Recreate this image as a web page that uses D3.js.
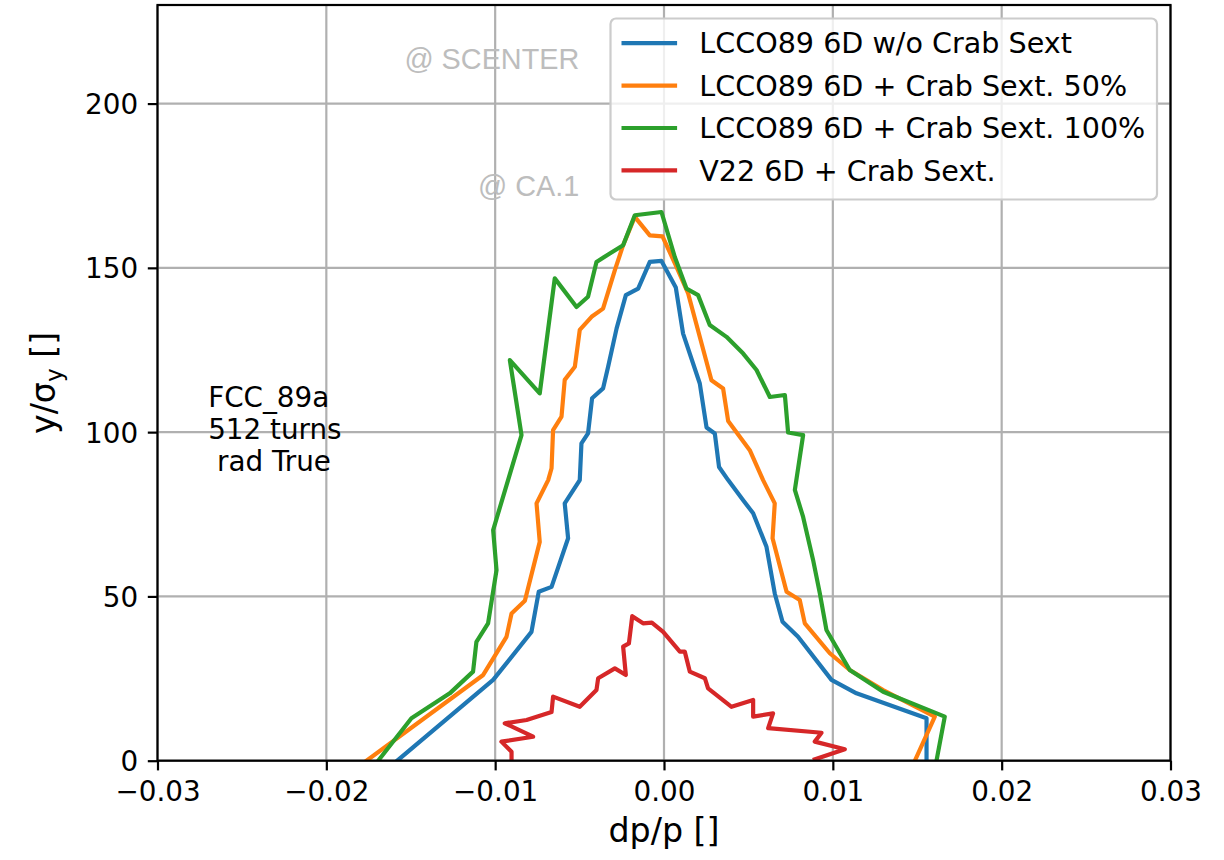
<!DOCTYPE html>
<html>
<head>
<meta charset="utf-8">
<script src="https://cdn.jsdelivr.net/npm/d3@7"></script>
<style>
  html, body { margin: 0; padding: 0; background: #fff; }
  svg { display: block; font-family: "DejaVu Sans", sans-serif; }
</style>
</head>
<body>
<svg id="chart" width="1224" height="860"></svg>
<script>
// ---------- data ----------
const seriesNames = [
  "LCCO89 6D w/o Crab Sext",
  "LCCO89 6D + Crab Sext. 50%",
  "LCCO89 6D + Crab Sext. 100%",
  "V22 6D + Crab Sext."
];
const seriesColors = ["#1f77b4", "#ff7f0e", "#2ca02c", "#d62728"];

const blueDp = [-0.0158,-0.01012,-0.00785,-0.00742,-0.00666,-0.00568,-0.00588,-0.00499,-0.00489,-0.00450,-0.00426,-0.00361,-0.00331,-0.00281,-0.00226,-0.00153,-0.00084,-0.00015,0.00070,0.00113,0.00212,0.00252,0.00301,0.00326,0.00380,0.00469,0.00528,0.00607,0.00656,0.00702,0.00794,0.00992,0.01140,0.01555,0.01555];
const blueY  = [0,24.6,39.2,51.4,52.9,67.7,78.3,85.4,96.6,99.6,110.3,113.3,119.9,131.5,141.7,143.7,151.8,152.1,144.0,130.0,114.8,101.4,99.6,89.4,85.4,79.3,75.3,65.1,50.9,42.3,37.7,24.6,20.5,12.9,0];

const orangeDp = [-0.01762,-0.01071,-0.00933,-0.00903,-0.00824,-0.00736,-0.00755,-0.00686,-0.00666,-0.00657,-0.00607,-0.00588,-0.00528,-0.00499,-0.00429,-0.00361,-0.00291,-0.00242,-0.00173,-0.00084,-0.00009,0.00074,0.00143,0.00281,0.00350,0.00380,0.00508,0.00587,0.00656,0.00643,0.00726,0.00804,0.00834,0.00982,0.01100,0.01298,0.01604,0.01486];
const orangeY  = [0,26.1,37.7,44.8,48.7,66.6,78.3,85.4,89.0,100.6,104.7,115.9,119.9,131.1,135.1,137.6,149.3,156.9,165.5,159.9,159.6,150.3,142.2,115.8,113.3,103.4,94.5,85.4,78.3,67.7,51.4,48.9,41.8,32.7,27.6,21.5,13.4,0];

const greenDp = [-0.01693,-0.01496,-0.01269,-0.01131,-0.01111,-0.01042,-0.00992,-0.01012,-0.00844,-0.00913,-0.00736,-0.00647,-0.00518,-0.00450,-0.00400,-0.00321,-0.00242,-0.00173,-0.00015,0.00064,0.00133,0.00202,0.00271,0.00370,0.00469,0.00548,0.00627,0.00716,0.00735,0.00824,0.00775,0.00824,0.00883,0.00923,0.00962,0.01100,0.01298,0.01663,0.01614];
const greenY  = [0,12.9,20.5,27.1,36.2,41.8,58.0,70.2,99.1,121.9,111.8,146.8,138.1,141.2,151.8,154.4,156.9,166.0,167.0,153.3,143.7,141.7,132.6,129.0,123.9,118.9,110.7,111.3,99.9,99.1,82.4,74.2,61.1,50.9,39.8,27.6,21.0,13.4,0];

const redDp = [-0.00903,-0.00903,-0.00963,-0.00775,-0.00943,-0.00814,-0.00666,-0.00657,-0.00499,-0.00400,-0.00390,-0.00291,-0.00226,-0.00242,-0.00208,-0.00188,-0.00124,-0.00072,-0.00005,0.00094,0.00123,0.00153,0.00242,0.00261,0.00400,0.00528,0.00528,0.00646,0.00617,0.00933,0.00893,0.01071,0.00893];
const redY  = [0,2.7,5.8,7.3,11.4,12.4,14.8,19.5,16.4,21.5,25.1,28.1,26.1,34.7,35.7,44.0,41.8,42.0,39.2,33.2,33.2,27.1,25.1,22.0,16.4,18.5,13.4,14.4,9.9,8.5,5.8,3.5,0.4];

const xTicks = [-0.03, -0.02, -0.01, 0.00, 0.01, 0.02, 0.03];
const xTickLabels = ["\u22120.03", "\u22120.02", "\u22120.01", "0.00", "0.01", "0.02", "0.03"];
const yTicks = [0, 50, 100, 150, 200];
const yTickLabels = ["0", "50", "100", "150", "200"];

const xDomain = [-0.03, 0.03];
const yDomain = [0, 230];

const infoLines = ["FCC_89a", "512 turns", " rad True"];
const markerLabels = ["@ SCENTER", "@ CA.1"];
const markerDp = [-0.00502, -0.00502];
const markerY = [210.4, 171.8];

// ---------- layout ----------
const L = 157.5, R = 1170.5, T = 5, B = 760.7;
const FS = 27.8;      // 10pt
const LGFS = 28.6;    // legend text
const LFS = 33.3;     // 12pt
const svg = d3.select("#chart");

const x = d3.scaleLinear().domain(xDomain).range([L, R]);
const y = d3.scaleLinear().domain(yDomain).range([B, T]);

// grid
const grid = svg.append("g");
grid.selectAll("line.gx").data(xTicks).enter().append("line")
  .attr("x1", d => x(d)).attr("x2", d => x(d)).attr("y1", T).attr("y2", B)
  .attr("stroke", "#b0b0b0").attr("stroke-width", 2.2);
grid.selectAll("line.gy").data(yTicks).enter().append("line")
  .attr("x1", L).attr("x2", R).attr("y1", d => y(d)).attr("y2", d => y(d))
  .attr("stroke", "#b0b0b0").attr("stroke-width", 2.2);

// clip
svg.append("defs").append("clipPath").attr("id", "plotclip")
  .append("rect").attr("x", L).attr("y", T).attr("width", R - L).attr("height", B - T);

// series
const seriesData = [
  d3.zip(blueDp, blueY),
  d3.zip(orangeDp, orangeY),
  d3.zip(greenDp, greenY),
  d3.zip(redDp, redY)
];
const line = d3.line().x(d => x(d[0])).y(d => y(d[1]));
svg.append("g").attr("clip-path", "url(#plotclip)")
  .selectAll("path").data(seriesData).enter().append("path")
  .attr("d", line)
  .attr("fill", "none")
  .attr("stroke", (d, i) => seriesColors[i])
  .attr("stroke-width", 4.2)
  .attr("stroke-linejoin", "round")
  .attr("stroke-linecap", "square");

// marker annotations (grey labels)
svg.append("g").selectAll("text").data(markerLabels).enter().append("text")
  .attr("x", (d, i) => x(markerDp[i]))
  .attr("y", (d, i) => y(markerY[i]))
  .attr("text-anchor", "end")
  .attr("font-family", "'Liberation Sans', Arial, sans-serif")
  .attr("font-size", 28.8)
  .attr("fill", "#bdbdbd")
  .text(d => d);

// info text
const info = svg.append("text")
  .attr("x", x(-0.027)).attr("y", y(107.6))
  .attr("font-size", FS).attr("fill", "#000")
  .attr("xml:space", "preserve").style("white-space", "pre");
info.selectAll("tspan").data(infoLines).enter().append("tspan")
  .attr("x", x(-0.027))
  .attr("dy", (d, i) => i === 0 ? 0 : 32)
  .text(d => d);

// axes via d3
const xAxis = d3.axisBottom(x).tickValues(xTicks)
  .tickFormat((d, i) => xTickLabels[i]).tickSize(9.7).tickPadding(9.7);
const yAxis = d3.axisLeft(y).tickValues(yTicks)
  .tickFormat((d, i) => yTickLabels[i]).tickSize(9.7).tickPadding(9.7);

const gx = svg.append("g").attr("transform", `translate(0,${B})`).call(xAxis);
const gy = svg.append("g").attr("transform", `translate(${L},0)`).call(yAxis);
[gx, gy].forEach(g => {
  g.select(".domain").remove();
  g.selectAll(".tick line").attr("stroke", "#000").attr("stroke-width", 2.2);
  g.selectAll(".tick text").attr("font-size", FS).attr("fill", "#000")
    .attr("font-family", "'DejaVu Sans', sans-serif");
});
gx.selectAll(".tick text").attr("dy", "0.76em");
gy.selectAll(".tick text").attr("dy", "0.36em");

// spines
svg.append("rect").attr("x", L).attr("y", T).attr("width", R - L).attr("height", B - T)
  .attr("fill", "none").attr("stroke", "#000").attr("stroke-width", 2.2);

// axis labels
svg.append("text").attr("x", (L + R) / 2).attr("y", 842)
  .attr("text-anchor", "middle").attr("font-size", LFS).text("dp/p []");
const yl = svg.append("text")
  .attr("transform", `translate(55,${(T + B) / 2}) rotate(-90)`)
  .attr("text-anchor", "middle").attr("font-size", LFS);
yl.append("tspan").text("y/\u03c3");
yl.append("tspan").attr("font-size", LFS * 0.7).attr("dy", 7).text("y");
yl.append("tspan").attr("dy", -7).text(" []");

// legend
const lgX = 610.5, lgY = 18.5, lgW = 546.5, lgH = 181;
const lg = svg.append("g");
lg.append("rect").attr("x", lgX).attr("y", lgY).attr("width", lgW).attr("height", lgH)
  .attr("rx", 5.5).attr("ry", 5.5)
  .attr("fill", "#fff").attr("fill-opacity", 0.8)
  .attr("stroke", "#cccccc").attr("stroke-width", 2.2);
const rowPitch = 42.4, row0 = 43.2;
const items = lg.selectAll("g.item").data(seriesNames).enter().append("g");
items.append("line")
  .attr("x1", lgX + 11).attr("x2", lgX + 11 + 55.6)
  .attr("y1", (d, i) => row0 + i * rowPitch).attr("y2", (d, i) => row0 + i * rowPitch)
  .attr("stroke", (d, i) => seriesColors[i]).attr("stroke-width", 4.2);
items.append("text")
  .attr("x", lgX + 11 + 55.6 + 22.2)
  .attr("y", (d, i) => row0 + i * rowPitch)
  .attr("dy", "0.36em")
  .attr("font-size", LGFS).attr("fill", "#000")
  .text(d => d);
</script>
</body>
</html>
